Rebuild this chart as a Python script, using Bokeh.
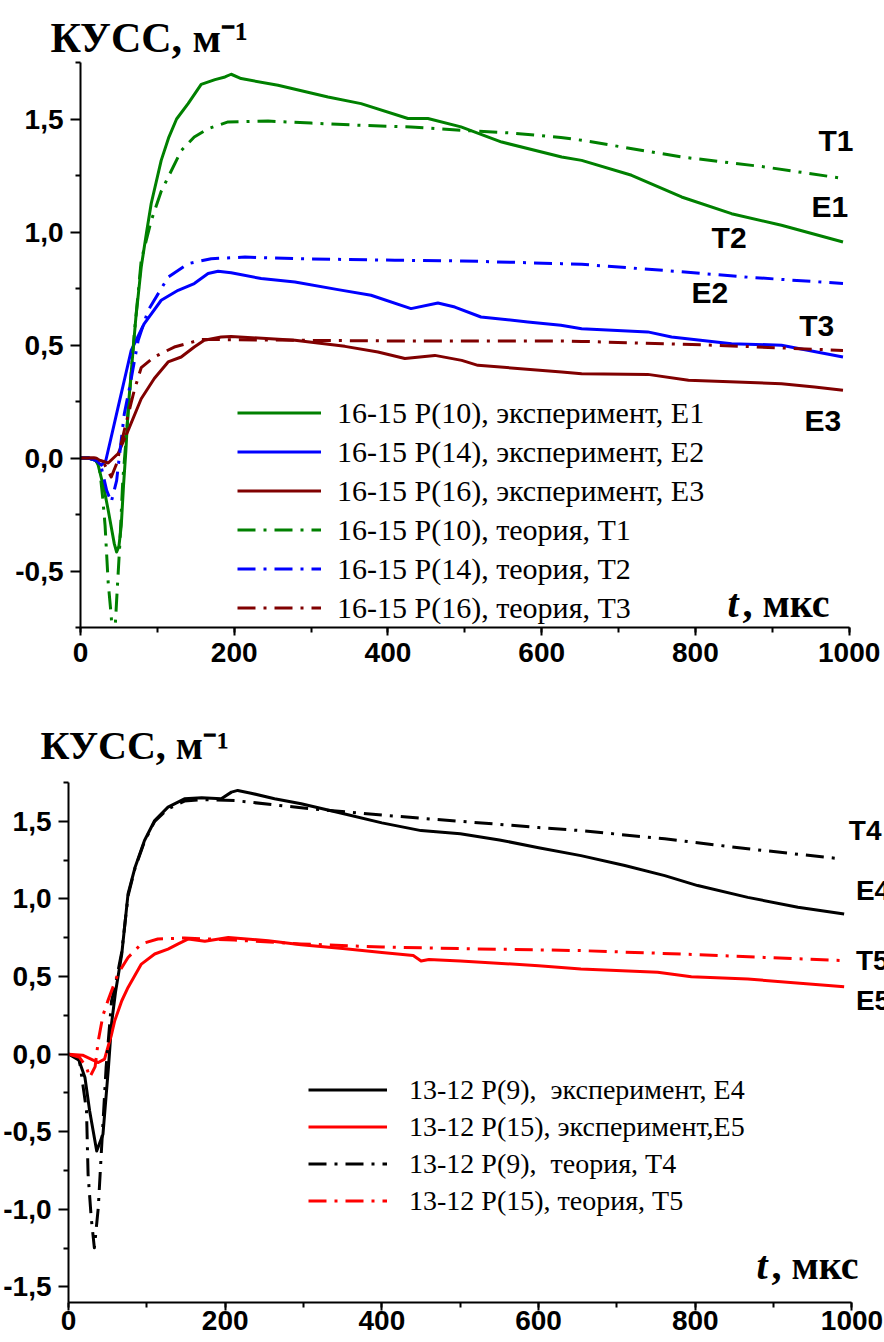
from bokeh.plotting import figure
from bokeh.models import Range1d, FixedTicker, Label, Legend, LegendItem, ColumnDataSource, Title
from bokeh.layouts import column
from bokeh.embed import file_html
from bokeh.resources import INLINE

# ---------------- data: upper panel (16-15 band) ----------------
E1_t = [0, 10, 20, 23, 31, 36, 40, 44, 47, 50, 53, 56, 59, 62, 66, 72, 79, 86, 92, 105, 115, 125, 140, 157, 175, 188, 196, 209, 257, 322, 365, 426, 452, 495, 548, 626, 652, 717, 782, 847, 912, 992]
E1_v = [0, 0, -0.01, -0.032, -0.143, -0.23, -0.305, -0.38, -0.416, -0.39, -0.30, -0.12, 0.03, 0.22, 0.38, 0.62, 0.845, 1.0, 1.126, 1.317, 1.42, 1.50, 1.568, 1.653, 1.674, 1.686, 1.698, 1.679, 1.649, 1.597, 1.568, 1.502, 1.502, 1.465, 1.398, 1.332, 1.317, 1.251, 1.155, 1.081, 1.030, 0.956]

E2_t = [0, 10, 20, 27, 33, 40, 49, 53, 57, 66, 83, 105, 127, 148, 166, 179, 196, 235, 279, 335, 378, 430, 465, 487, 521, 582, 625, 652, 738, 769, 847, 912, 992]
E2_v = [0, 0, -0.01, -0.032, -0.01, 0.093, 0.226, 0.285, 0.344, 0.476, 0.595, 0.698, 0.742, 0.772, 0.816, 0.826, 0.82, 0.794, 0.779, 0.745, 0.72, 0.661, 0.686, 0.668, 0.624, 0.602, 0.587, 0.572, 0.558, 0.535, 0.506, 0.499, 0.447]

E3_t = [0, 10, 17, 25, 36, 49, 62, 79, 96, 114, 131, 148, 161, 183, 196, 279, 344, 387, 422, 461, 496, 517, 626, 652, 738, 791, 912, 955, 992]
E3_v = [0, 0, 0, -0.01, -0.022, 0.02, 0.122, 0.262, 0.352, 0.425, 0.447, 0.491, 0.521, 0.535, 0.538, 0.521, 0.494, 0.469, 0.44, 0.454, 0.432, 0.41, 0.381, 0.373, 0.37, 0.344, 0.329, 0.314, 0.30]

T1_t = [0, 10, 20, 25, 29, 32, 36, 40, 43, 47, 51, 55, 62, 70, 79, 92, 105, 131, 148, 166, 192, 244, 300, 365, 430, 495, 560, 625, 652, 782, 890, 994]
T1_v = [0, 0, -0.01, -0.05, -0.18, -0.30, -0.55, -0.70, -0.88, -0.63, -0.39, -0.10, 0.20, 0.55, 0.875, 1.05, 1.18, 1.36, 1.42, 1.457, 1.487, 1.491, 1.482, 1.472, 1.465, 1.45, 1.438, 1.418, 1.406, 1.332, 1.288, 1.236]

T2_t = [0, 10, 20, 27, 34, 40, 47, 51, 57, 64, 75, 88, 114, 140, 170, 214, 279, 409, 496, 626, 652, 760, 869, 992]
T2_v = [0, 0, -0.01, -0.04, -0.143, -0.195, -0.10, 0.02, 0.196, 0.314, 0.52, 0.653, 0.80, 0.86, 0.882, 0.889, 0.882, 0.875, 0.872, 0.86, 0.857, 0.83, 0.80, 0.772]

T3_t = [0, 10, 20, 30, 40, 47, 57, 70, 79, 96, 122, 157, 183, 279, 409, 626, 652, 825, 992]
T3_v = [0, 0, 0, -0.02, -0.084, -0.025, 0.122, 0.30, 0.40, 0.447, 0.491, 0.524, 0.524, 0.521, 0.518, 0.518, 0.516, 0.499, 0.476]

# ---------------- data: lower panel (13-12 band) ----------------
E4_t = [0, 12, 21, 27, 36, 44, 51, 55, 60, 68, 76, 85, 97, 110, 127, 148, 170, 195, 208, 216, 233, 263, 297, 350, 400, 450, 500, 550, 600, 654, 710, 761, 803, 867, 931, 990]
E4_v = [0, -0.02, -0.15, -0.366, -0.624, -0.516, -0.086, 0.20, 0.40, 0.645, 1.032, 1.204, 1.376, 1.505, 1.591, 1.645, 1.652, 1.645, 1.688, 1.699, 1.681, 1.645, 1.613, 1.55, 1.49, 1.44, 1.42, 1.38, 1.33, 1.279, 1.215, 1.15, 1.086, 1.01, 0.946, 0.903]

E5_t = [0, 18, 38, 46, 55, 59, 68, 76, 93, 110, 127, 140, 153, 174, 204, 255, 297, 350, 400, 440, 450, 460, 500, 600, 654, 752, 795, 867, 990]
E5_v = [0, -0.007, -0.054, -0.032, 0.129, 0.215, 0.344, 0.43, 0.58, 0.645, 0.677, 0.71, 0.742, 0.727, 0.752, 0.731, 0.705, 0.68, 0.655, 0.635, 0.60, 0.61, 0.60, 0.57, 0.548, 0.527, 0.499, 0.484, 0.434]

T4_t = [0, 14, 23, 25, 29, 33, 38, 42, 48, 55, 60, 68, 76, 85, 97, 110, 127, 148, 170, 212, 297, 400, 500, 600, 654, 761, 867, 986]
T4_v = [0, -0.04, -0.366, -0.774, -1.054, -1.248, -0.99, -0.624, -0.086, 0.344, 0.45, 0.66, 1.02, 1.20, 1.37, 1.50, 1.58, 1.63, 1.64, 1.634, 1.587, 1.54, 1.50, 1.46, 1.44, 1.387, 1.323, 1.258]

T5_t = [0, 14, 23, 27, 34, 38, 44, 50, 63, 76, 93, 114, 148, 212, 297, 400, 500, 654, 782, 888, 994]
T5_v = [0, -0.02, -0.086, -0.15, -0.08, 0.086, 0.25, 0.34, 0.516, 0.623, 0.71, 0.742, 0.748, 0.735, 0.71, 0.69, 0.68, 0.667, 0.645, 0.623, 0.602]

x_major = [0, 200, 400, 600, 800, 1000]
x_minor = [0, 100, 200, 300, 400, 500, 600, 700, 800, 900, 1000]
y1_major = [-0.5, 0, 0.5, 1, 1.5]
y1_minor = [-0.75, -0.25, 0.25, 0.75, 1.25, 1.75]
y1_labels = ["-0,5", "0,0", "0,5", "1,0", "1,5"]
y2_major = [-1.5, -1, -0.5, 0, 0.5, 1, 1.5]
y2_minor = [-1.25, -0.75, -0.25, 0.25, 0.75, 1.25, 1.75]
y2_labels = ["-1,5", "-1,0", "-0,5", "0,0", "0,5", "1,0", "1,5"]

top_series = [
    (E1_t, E1_v, "#008000", "solid", "16-15 P(10), эксперимент, E1"),
    (E2_t, E2_v, "#0000FF", "solid", "16-15 P(14), эксперимент, E2"),
    (E3_t, E3_v, "#800000", "solid", "16-15 P(16), эксперимент, E3"),
    (T1_t, T1_v, "#008000", "18 8 3 8", "16-15 P(10), теория, T1"),
    (T2_t, T2_v, "#0000FF", "18 8 3 8", "16-15 P(14), теория, T2"),
    (T3_t, T3_v, "#800000", "18 8 3 8", "16-15 P(16), теория, T3"),
]
bot_series = [
    (E4_t, E4_v, "#000000", "solid", "13-12 P(9),  эксперимент, E4"),
    (E5_t, E5_v, "#FF0000", "solid", "13-12 P(15), эксперимент,E5"),
    (T4_t, T4_v, "#000000", "18 8 3 8", "13-12 P(9),  теория, T4"),
    (T5_t, T5_v, "#FF0000", "18 8 3 8", "13-12 P(15), теория, T5"),
]

top_tags = [("T1", 960, 1.405), ("E1", 951, 1.111), ("T2", 821, 0.977),
            ("E2", 795, 0.733), ("T3", 935, 0.587), ("E3", 942, 0.167)]
bot_tags = [("T4", 996, 1.44), ("E4", 1005, 1.054), ("T5", 1005, 0.602), ("E5", 1005, 0.344)]

SANS = "Liberation Sans"
SERIF = "Liberation Serif"
TITLE = "КУСС, м⁻¹"


def style_axes(p, ymaj, ymin, ylab, x_standoff):
    p.xaxis.bounds = (0, 1000)
    p.xaxis.ticker = FixedTicker(ticks=x_major, minor_ticks=x_minor)
    p.yaxis.ticker = FixedTicker(ticks=ymaj, minor_ticks=ymin)
    p.yaxis.major_label_overrides = {v: s for v, s in zip(ymaj, ylab)}
    for ax in (p.xaxis, p.yaxis):
        ax.axis_line_width = 2
        ax.axis_line_color = "black"
        ax.major_tick_line_width = 2
        ax.minor_tick_line_width = 2
        ax.major_tick_line_color = "black"
        ax.minor_tick_line_color = "black"
        ax.major_tick_in = 0
        ax.minor_tick_in = 0
        ax.minor_tick_out = 5
        ax.major_label_text_font = SANS
        ax.major_label_text_font_style = "bold"
        ax.major_label_text_font_size = "28px"
        ax.major_label_text_color = "black"
    p.xaxis.major_tick_out = 8
    p.yaxis.major_tick_out = 10
    p.xaxis.major_label_standoff = x_standoff
    p.yaxis.major_label_standoff = 7
    p.xgrid.visible = False
    p.ygrid.visible = False


def make_panel(height, xr, yr, borders, series, tags, legend_loc, leg_font, row_h, glyph_w, standoff,
               title_off, title_size, title_standoff, tlab_pos, tag_size):
    bl, bt, bb = borders
    p = figure(width=884, height=height, x_range=Range1d(0, xr), y_range=Range1d(*yr),
               output_backend="svg", toolbar_location=None, frame_align=False,
               min_border_left=bl, min_border_right=0, min_border_top=bt, min_border_bottom=bb,
               outline_line_color=None, background_fill_color="white", border_fill_color="white",
               title=Title(text=TITLE, align="left", offset=title_off, text_font=SERIF,
                           text_font_style="bold", text_font_size=title_size,
                           standoff=title_standoff, text_color="black"))
    items = []
    for t, v, col, dash, lab in series:
        src = ColumnDataSource(dict(t=t, v=v))
        r = p.line(x="t", y="v", source=src, line_color=col, line_width=3,
                   line_dash=dash, line_join="round")
        items.append(LegendItem(label=lab, renderers=[r]))
    leg = Legend(items=items, location=legend_loc, glyph_width=glyph_w, glyph_height=row_h,
                 label_height=row_h, label_standoff=standoff, spacing=0, padding=0, margin=0,
                 border_line_color=None, background_fill_alpha=0,
                 label_text_font=SERIF, label_text_font_size=leg_font, label_text_color="black")
    p.add_layout(leg)
    for txt, x, y in tags:
        p.add_layout(Label(x=x, y=y, text=txt, text_font=SANS, text_font_style="bold",
                           text_font_size=tag_size, text_baseline="middle", text_align="left",
                           text_color="black"))
    p.add_layout(Label(x=tlab_pos[0], y=tlab_pos[1], x_units="screen", y_units="screen",
                       text="t", text_font=SERIF, text_font_style="bold italic",
                       text_font_size="40px", text_baseline="alphabetic", text_color="black"))
    p.add_layout(Label(x=tlab_pos[0] + 15, y=tlab_pos[1], x_units="screen", y_units="screen",
                       text=", мкс", text_font=SERIF, text_font_style="bold",
                       text_font_size="40px", text_baseline="alphabetic", text_color="black"))
    return p


p1 = make_panel(680, 1046, (-0.75, 1.75), (80, 62, 53), top_series, top_tags, (157, 0), "30px",
                39, 84, 16, -30, "42px", 4, (647, 24), "30px")
style_axes(p1, y1_major, y1_minor, y1_labels, 7)

p2 = make_panel(662, 1041.5, (-1.6, 1.75), (68, 102, 40), bot_series, bot_tags, (240, 83), "28px",
                37, 79, 22, -28, "40px", 30, (688, 37), "28px")
style_axes(p2, y2_major, y2_minor, y2_labels, 0)

layout = column(p1, p2, spacing=0)
open("out.html", "w").write(file_html(layout, INLINE))
